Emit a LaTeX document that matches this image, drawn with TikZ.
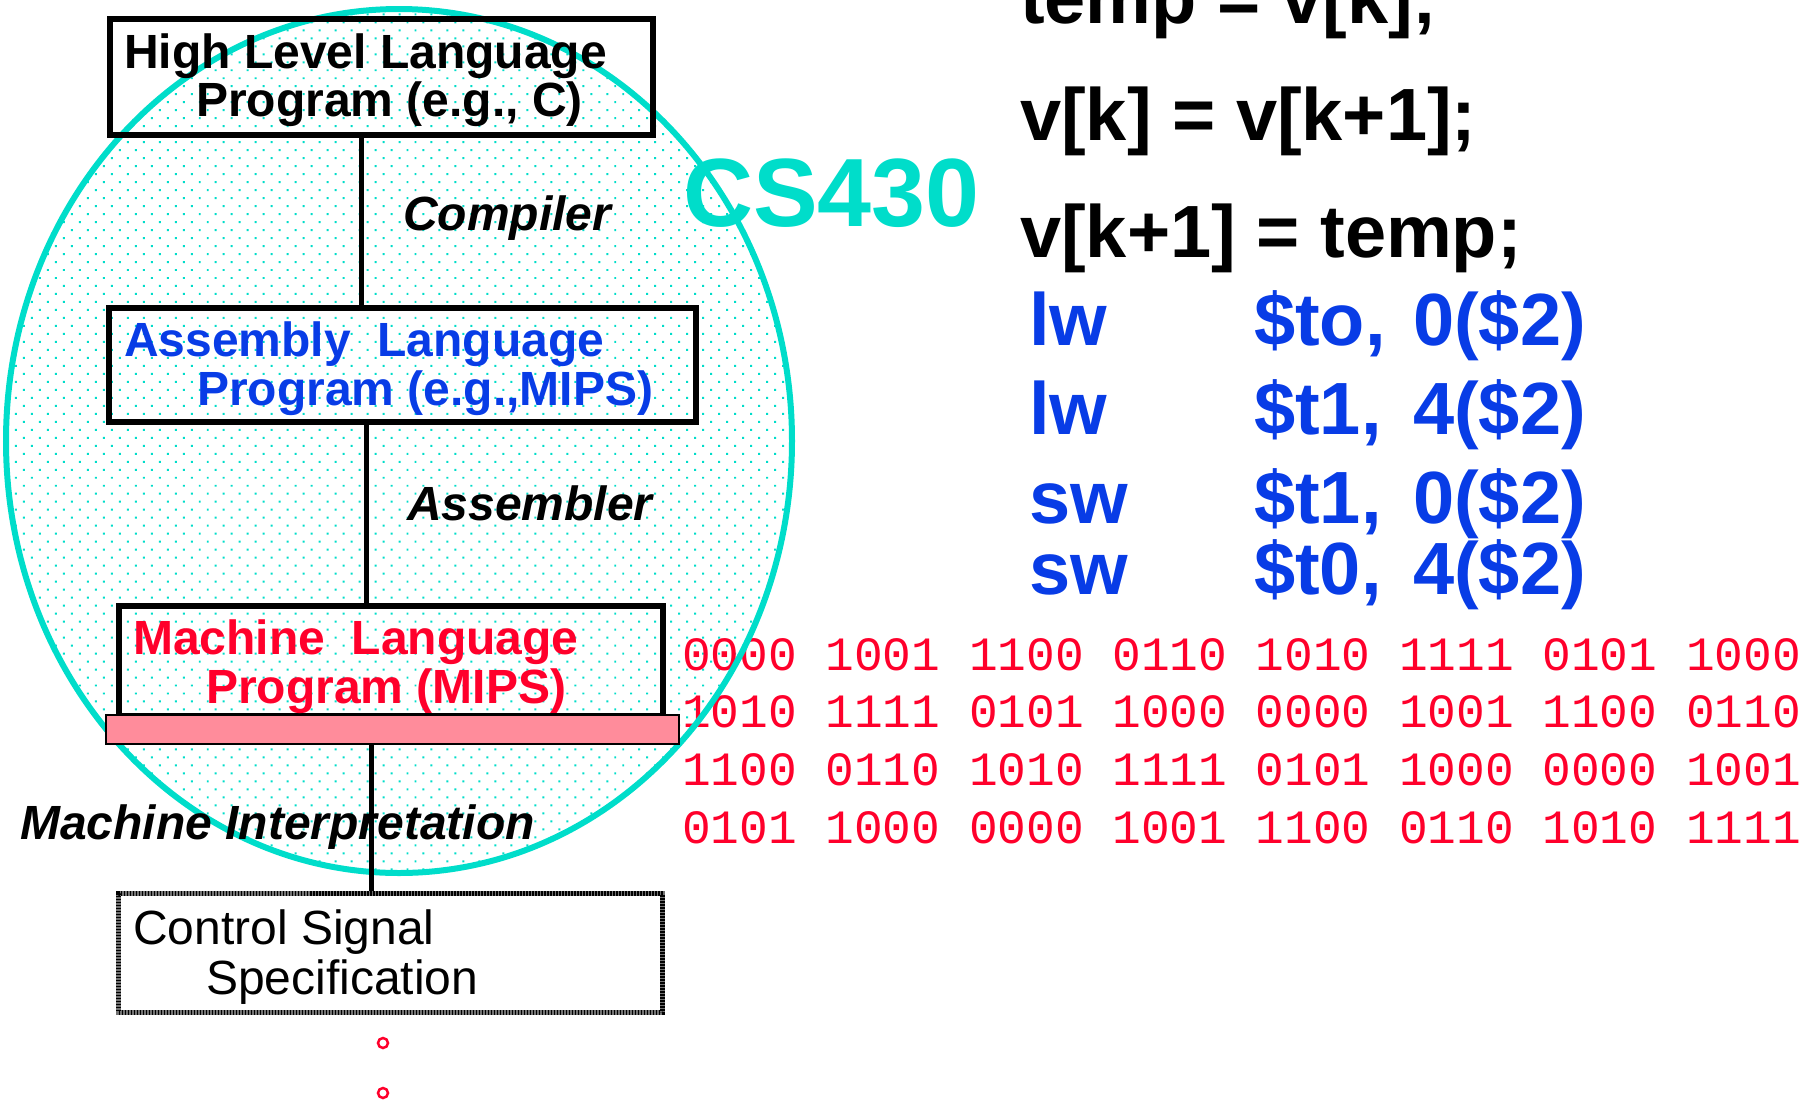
\documentclass[tikz,border=0pt]{standalone}
\usepackage{fontspec}
\setmainfont{Liberation Sans}
\setmonofont{Liberation Mono}
\usetikzlibrary{patterns.meta,shapes.geometric}
\definecolor{turq}{RGB}{0,221,202}
\definecolor{mblue}{RGB}{8,60,230}
\definecolor{mred}{RGB}{255,0,43}
\definecolor{mpink}{RGB}{255,140,155}
\begin{document}
\begin{tikzpicture}[x=1pt,y=-1pt,
  box/.style={draw, line width=6pt, inner sep=0pt, rectangle},
  lab/.style={anchor=base west, inner sep=0pt, font=\fontsize{48}{48}\selectfont\bfseries},
  ilab/.style={anchor=base west, inner sep=0pt, font=\fontsize{48}{48}\selectfont\bfseries\itshape},
  plab/.style={anchor=base west, inner sep=0pt, font=\fontsize{48}{48}\selectfont},
  code/.style={anchor=base west, inner sep=0pt, font=\fontsize{74}{74}\selectfont\bfseries},
  bin/.style={anchor=base west, inner sep=0pt, text=mred, font=\fontsize{47.8}{47.8}\selectfont\ttfamily},
  conn/.style={line width=5pt},
  dotc/.style={circle, draw=mred, line width=2.5pt, minimum size=10pt, inner sep=0pt}]
\useasboundingbox (0,0) rectangle (1808,1101);

% oval background
\node[ellipse, minimum width=786pt, minimum height=864pt, inner sep=0pt,
      pattern={Dots[angle=45,distance=11.3pt,radius=1.4pt]}, pattern color=turq] (oval) at (399,441) {};

% binary rows
\node[bin] (b1) at (682,670) {0000 1001 1100 0110 1010 1111 0101 1000};
\node[bin] (b2) at (682,727) {1010 1111 0101 1000 0000 1001 1100 0110};
\node[bin] (b3) at (682,785) {1100 0110 1010 1111 0101 1000 0000 1001};
\node[bin] (b4) at (682,843) {0101 1000 0000 1001 1100 0110 1010 1111};

\node[ellipse, draw=turq, line width=6pt, minimum width=786pt, minimum height=864pt, inner sep=0pt] (ovalline) at (399,441) {};

% boxes
\node[box, minimum width=543pt, minimum height=116pt] (hll) at (381,76.5) {};
\node[box, minimum width=587pt, minimum height=114pt] (asm) at (402,364.5) {};
\node[box, minimum width=544pt, minimum height=110.5pt] (mach) at (390.5,660.75) {};
\node[draw, line width=2.5pt, fill=mpink, minimum width=573pt, minimum height=29pt, inner sep=0pt] (bar) at (392.5,729.5) {};
\node[draw=black!55, line width=5pt, minimum width=544pt, minimum height=119pt, inner sep=0pt,
      postaction={draw=black, line width=5pt, dash pattern=on 1.5pt off 1.5pt}] (ctrl) at (390.5,953) {};

% box texts
\node[lab] (hll1) at (124,68) {High Level Language};
\node[lab] (hll2) at (196,116) {Program (e.g., C)};
\node[lab, text=mblue] (asm1) at (124,356) {Assembly\ \ Language};
\node[lab, text=mblue] (asm2) at (197,405) {Program (e.g.,MIPS)};
\node[lab, text=mred] (mach1) at (133,654) {Machine\ \ Language};
\node[lab, text=mred] (mach2) at (206,703) {Program (MIPS)};
\node[plab] (ctrl1) at (133,944) {Control Signal};
\node[plab] (ctrl2) at (206,994) {Specification};

% step labels
\node[ilab] (comp) at (403,230) {Compiler};
\node[ilab] (assm) at (407,520) {Assembler};
\node[ilab] (interp) at (20,839) {Machine Interpretation};

% connectors
\coordinate (x1) at (361,0);
\coordinate (x2) at (366,0);
\coordinate (x3) at (371,0);
\draw[conn] (x1 |- hll.south) -- (x1 |- asm.north);
\draw[conn] (x2 |- asm.south) -- (x2 |- mach.north);
\draw[conn] (x3 |- bar.south) -- (x3 |- ctrl.north);

% CS430
\node[anchor=base west, inner sep=0pt, text=turq, font=\fontsize{97}{97}\selectfont\bfseries] (cs) at (683,226) {CS430};

% C code
\node[code] (c1) at (1020,23) {temp = v[k];};
\node[code] (c2) at (1020,140) {v[k] = v[k+1];};
\node[code] (c3) at (1020,257) {v[k+1] = temp;};

% assembly code
\node[code, text=mblue] (m1) at (1029,345) {lw};
\node[code, text=mblue] (r1) at (1254,345) {\$to,};
\node[code, text=mblue] (o1) at (1413,345) {0(\$2)};
\node[code, text=mblue] (m2) at (1029,434) {lw};
\node[code, text=mblue] (r2) at (1254,434) {\$t1,};
\node[code, text=mblue] (o2) at (1413,434) {4(\$2)};
\node[code, text=mblue] (m3) at (1029,523) {sw};
\node[code, text=mblue] (r3) at (1254,523) {\$t1,};
\node[code, text=mblue] (o3) at (1413,523) {0(\$2)};
\node[code, text=mblue] (m4) at (1029,594) {sw};
\node[code, text=mblue] (r4) at (1254,594) {\$t0,};
\node[code, text=mblue] (o4) at (1413,594) {4(\$2)};

% continuation marks
\node[dotc] (d1) at (383,1043) {};
\node[dotc] (d2) at (383,1093) {};
\end{tikzpicture}
\end{document}
